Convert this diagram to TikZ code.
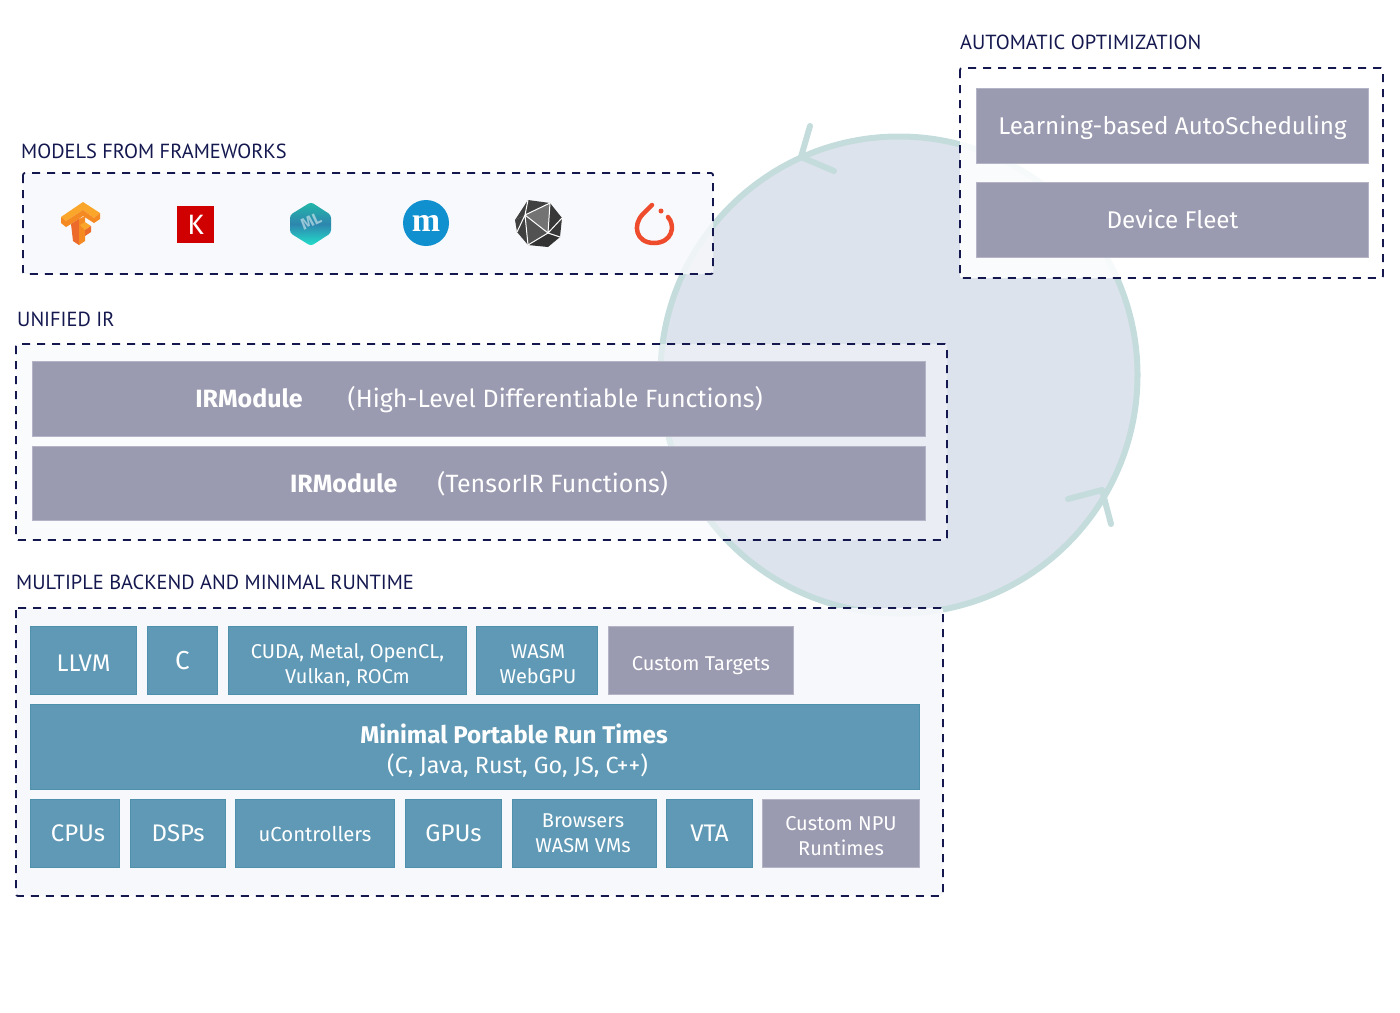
\documentclass[tikz,border=0pt]{standalone}
\usepackage{fontspec}
\setmainfont{Fira Sans}
\newfontfamily\headfont{PT Sans}
\newfontfamily\mfont{Liberation Serif}
\usetikzlibrary{arrows}

\definecolor{inkblue}{HTML}{14184F}
\definecolor{ringgreen}{HTML}{C5DCDC}
\definecolor{discblue}{HTML}{DCE3ED}
\definecolor{panelgrey}{HTML}{F6F8FB}
\definecolor{tealbox}{HTML}{6099B5}
\definecolor{tealedge}{HTML}{4F90AD}
\definecolor{greybox}{HTML}{9A9AB0}
\definecolor{greyedge}{HTML}{B4B4C6}
\definecolor{tfyellow}{HTML}{F9A62B}
\definecolor{tfmid}{HTML}{F58A23}
\definecolor{tfdark}{HTML}{EC6A2A}
\definecolor{kerasred}{HTML}{D00000}
\definecolor{mblue}{HTML}{1090CF}
\definecolor{torchred}{HTML}{EE4C2C}
\definecolor{mltop}{HTML}{22B8A8}
\definecolor{mlmid}{HTML}{2E86AE}
\definecolor{mlbottom}{HTML}{22E2CC}

% push a line of text down, leaving the box it takes up alone
\newcommand\nudge[2]{\raisebox{-#1}[\height][\depth]{#2}}

\begin{document}
\begin{tikzpicture}[x=1pt,y=-1pt
	,heading/.style={anchor=west,text=inkblue,inner sep=0pt,font=\headfont\fontsize{20.4}{20.4}\selectfont}
	,panel/.style={draw=inkblue,line width=1.8pt,dash pattern=on 8pt off 7pt,fill=panelgrey,fill opacity=.55,rounded corners=2pt}
	,block/.style={text=white,inner sep=0pt,align=center}
	,teal/.style={block,fill=tealbox,draw=tealedge,line width=.7pt}
	,grey/.style={block,fill=greybox,draw=greyedge,line width=.7pt}
	,ring/.style={draw=ringgreen,line width=6pt,line cap=round,line join=round}
	,facet/.style={draw=white,line width=1pt,line join=round}
	]
  \useasboundingbox (0,0) rectangle (1400,1012);

  % disc behind everything
  \node[circle,draw=ringgreen,line width=6pt,fill=discblue,minimum size=477pt,inner sep=0pt] (loop) at (899,375) {};
  \coordinate (tipa) at (801,157);
  \coordinate (tipaup) at (810,126);
  \coordinate (tipadown) at (834,171);
  \coordinate (tipb) at (1102,490);
  \coordinate (tipbleft) at (1068,499);
  \coordinate (tipbdown) at (1111,524);
  \path [ring] (tipaup) edge (tipa) (tipa) edge (tipadown);
  \path [ring] (tipbleft) edge (tipb) (tipb) edge (tipbdown);

  % 4 headings
  \node[heading] (modelshead) at (21,151) {MODELS FROM FRAMEWORKS};
  \node[heading] (irhead) at (17,319) {UNIFIED IR};
  \node[heading] (backhead) at (16,582) {MULTIPLE BACKEND AND MINIMAL RUNTIME};
  \node[heading] (autohead) at (960,42) {AUTOMATIC OPTIMIZATION};

  % 4 dashed panels
  \draw[panel,fill opacity=.85] (23,173) rectangle (713,274);
  \draw[panel] (16,344) rectangle (947,540);
  \draw[panel,fill opacity=.95] (16,608) rectangle (943,896);
  \draw[panel,fill=white,fill opacity=.88] (960,68) rectangle (1383,278);

  % automatic optimization
  \node[grey,minimum width=392pt,minimum height=75pt,font=\fontsize{24.2}{28}\selectfont] (learning) at (1172.5,126) {\nudge{2pt}{Learning-based AutoScheduling}};
  \node[grey,minimum width=392pt,minimum height=75pt,font=\fontsize{24.2}{28}\selectfont] (fleet) at (1172.5,220) {\nudge{-1pt}{Device Fleet}};

  % unified ir
  \node[grey,minimum width=893pt,minimum height=75pt,font=\fontsize{25}{28}\selectfont] (irhigh) at (479,399) {\nudge{1pt}{\textbf{IRModule}\hspace{45pt}(High-Level Differentiable Functions)}};
  \node[grey,minimum width=893pt,minimum height=74pt,font=\fontsize{25}{28}\selectfont] (irtensor) at (479,483.5) {\nudge{0pt}{\textbf{IRModule}\hspace{40pt}(TensorIR Functions)}};

  % 5 targets
  \node[teal,minimum width=106pt,minimum height=68pt,font=\fontsize{24}{28}\selectfont] (llvm) at (83.5,660.5) {\nudge{3pt}{LLVM}};
  \node[teal,minimum width=70pt,minimum height=68pt,font=\fontsize{26}{28}\selectfont] (cback) at (182.5,660.5) {C};
  \node[teal,minimum width=238pt,minimum height=68pt,font=\fontsize{20}{25}\selectfont] (cuda) at (347.5,660.5) {\nudge{5pt}{CUDA, Metal, OpenCL,}\\\nudge{5pt}{Vulkan, ROCm}};
  \node[teal,minimum width=121pt,minimum height=68pt,font=\fontsize{20}{25}\selectfont] (wasm) at (537,660.5) {\nudge{4pt}{\hspace*{2pt}WASM}\\\nudge{4pt}{\hspace*{2pt}WebGPU}};
  \node[grey,minimum width=185pt,minimum height=68pt,font=\fontsize{20}{25}\selectfont] (custom) at (701,660.5) {\nudge{5pt}{Custom Targets}};

  % runtimes
  \node[teal,minimum width=889pt,minimum height=85pt,font=\fontsize{23.4}{30}\selectfont] (minimal) at (475,747) {\hspace*{78pt}\nudge{4pt}{\fontsize{24.2}{30}\selectfont\textbf{Minimal Portable Run Times}}\\\hspace*{85pt}\nudge{4pt}{(C, Java, Rust, Go, JS, C++)}};

  % 7 devices
  \node[teal,minimum width=89pt,minimum height=68pt,font=\fontsize{24}{28}\selectfont] (cpus) at (75,833.5) {\hspace*{6pt}CPUs};
  \node[teal,minimum width=95pt,minimum height=68pt,font=\fontsize{24}{28}\selectfont] (dsps) at (178,833.5) {DSPs};
  \node[teal,minimum width=159pt,minimum height=68pt,font=\fontsize{20.3}{25}\selectfont] (ucontrollers) at (315,833.5) {uControllers};
  \node[teal,minimum width=96pt,minimum height=68pt,font=\fontsize{24}{28}\selectfont] (gpus) at (453.5,833.5) {GPUs};
  \node[teal,minimum width=144pt,minimum height=68pt,font=\fontsize{20}{25}\selectfont] (browsers) at (584.5,833.5) {\nudge{0pt}{Browsers\hspace*{3pt}}\\\nudge{0pt}{WASM VMs\hspace*{3pt}}};
  \node[teal,minimum width=86pt,minimum height=68pt,font=\fontsize{24}{28}\selectfont] (vta) at (709.5,833.5) {VTA};
  \node[grey,minimum width=157pt,minimum height=68pt,font=\fontsize{20}{25}\selectfont] (npu) at (841,833.5) {\nudge{3pt}{Custom NPU}\\\nudge{3pt}{Runtimes}};

  % 6 logos
  % tensorflow
  \fill[tfyellow] (61,217) -- (83,202) -- (100,213) -- (94,218) -- (83,210) -- (66,221) -- cycle;
  \fill[tfmid] (61,217) -- (66,221) -- (66,227) -- (61,223) -- cycle;
  \fill[tfmid] (83,210) -- (94,218) -- (100,213) -- (100,219) -- (94,223) -- (83,216) -- cycle;
  \fill[tfmid] (66,221) -- (83,210) -- (83,216) -- (79,219) -- (71,224) -- (66,227) -- cycle;
  \fill[tfdark] (71,224) -- (79,219) -- (79,245) -- (73,241) -- cycle;
  \fill[tfmid] (79,219) -- (85,216) -- (85,241) -- (79,245) -- cycle;
  \fill[tfyellow] (80,225) -- (85,222) -- (91,226) -- (85,230) -- cycle;
  \fill[tfdark] (85,230) -- (91,226) -- (91,232) -- (85,236) -- cycle;
  % keras
  \node[fill=kerasred,text=white,minimum size=37pt,inner sep=0pt,font=\fontsize{28}{28}\selectfont] (keras) at (195.5,224.5) {K};
  % mlir
  \shade[top color=mltop,bottom color=mlbottom,middle color=mlmid,rounded corners=3pt] (311,202) -- (331,215) -- (331,233) -- (311,246) -- (290,233) -- (290,215) -- cycle;
  \node[text=white,opacity=.5,rotate=25,inner sep=0pt,font=\fontsize{16}{16}\selectfont\bfseries] (mltext) at (311,221) {ML};
  % mxnet style m
  \node[circle,fill=mblue,text=white,minimum size=46pt,inner sep=0pt,font=\mfont\bfseries\fontsize{34}{34}\selectfont] (mlogo) at (426,223) {m};
  % dark gem
  \fill[black!75] (528,200) -- (550,203) -- (525,215) -- cycle;
  \fill[black!78] (550,203) -- (562,218) -- (560,237) -- (548,233) -- cycle;
  \fill[black!55] (525,215) -- (550,203) -- (548,233) -- cycle;
  \fill[black!68] (525,215) -- (548,233) -- (528,245) -- cycle;
  \fill[black!75] (528,200) -- (525,215) -- (515,220) -- cycle;
  \fill[black!75] (525,215) -- (515,220) -- (517,232) -- (528,245) -- cycle;
  \fill[black!80] (548,233) -- (560,237) -- (548,247) -- (528,245) -- cycle;
  \draw[facet] (528,200) -- (525,215) -- (550,203) -- (548,233) -- (525,215) -- (517,232) (525,215) -- (528,245) -- (548,233) -- (560,237) (548,233) -- (562,218);
  % pytorch
  \draw[torchred,line width=4.5pt,line cap=round] (652,205) -- (643,214) .. controls (632,225) and (636,243) .. (654,243) .. controls (672,243) and (676,226) .. (668,217);
  \fill[torchred] (661,211) circle (2.5pt);
\end{tikzpicture}
\end{document}
